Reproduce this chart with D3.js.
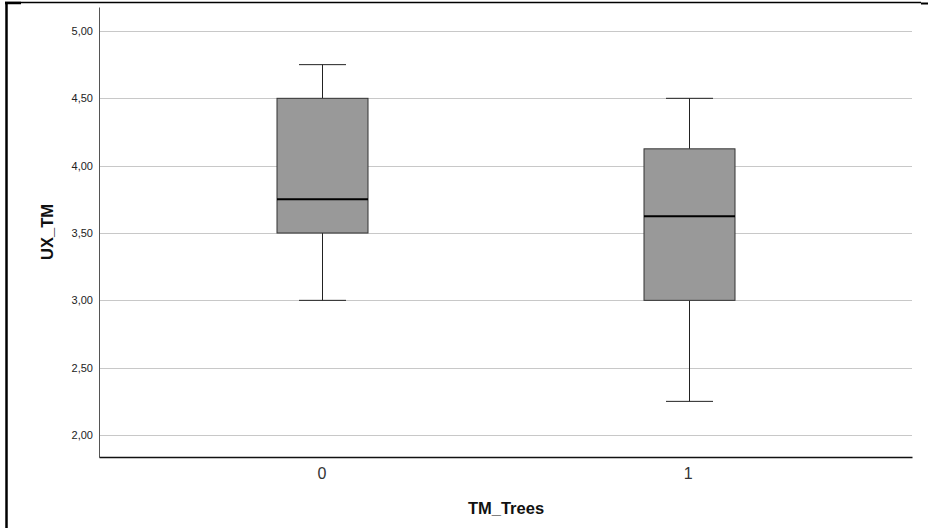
<!DOCTYPE html>
<html><head><meta charset="utf-8">
<script src="https://cdn.jsdelivr.net/npm/d3@7"></script>
<style>body{margin:0;background:#fff}svg{display:block}</style>
</head><body>
<script>
const categories = ["0", "1"];
const whiskerLow = [3.00, 2.25];
const q1 = [3.50, 3.00];
const median = [3.75, 3.625];
const q3 = [4.50, 4.125];
const whiskerHigh = [4.75, 4.50];
const yTicks = [2.0, 2.5, 3.0, 3.5, 4.0, 4.5, 5.0];
const xTitle = "TM_Trees";
const yTitle = "UX_TM";

(function () {
const W = 928, H = 528;
const svg = d3.select("body").append("svg").attr("width", W).attr("height", H);
const font = "'Liberation Sans', Arial, sans-serif";

// outer frame
svg.append("line").attr("x1", 6.5).attr("x2", 6.5).attr("y1", 2).attr("y2", H).attr("stroke", "#000").attr("stroke-width", 2.5);
svg.append("line").attr("x1", 5).attr("x2", 921).attr("y1", 2.5).attr("y2", 2.5).attr("stroke", "#000").attr("stroke-width", 1.5);
svg.append("line").attr("x1", 5).attr("x2", 21).attr("y1", 3).attr("y2", 3).attr("stroke", "#000").attr("stroke-width", 2.5);
svg.append("line").attr("x1", 921).attr("x2", W).attr("y1", 3.5).attr("y2", 3.5).attr("stroke", "#000").attr("stroke-width", 2);

const pLeft = 99, pRight = 912, pTop = 7, pBottom = 457;
const y = d3.scaleLinear().domain([1.837, 5.178]).range([pBottom, pTop]);
const x = d3.scalePoint().domain(categories).range([pLeft, pRight]).padding(0.61);

// gridlines
svg.append("g").selectAll("line").data(yTicks).join("line")
  .attr("x1", pLeft).attr("x2", pRight)
  .attr("y1", d => Math.round(y(d)) + 0.5).attr("y2", d => Math.round(y(d)) + 0.5)
  .attr("stroke", "#c8c8c8").attr("stroke-width", 1);

// y axis
const yAxis = d3.axisLeft(y).tickValues(yTicks).tickSize(0).tickPadding(6)
  .tickFormat(d => d3.format(".2f")(d).replace(".", ","));
const gy = svg.append("g").attr("transform", `translate(${pLeft},0)`).call(yAxis);
gy.select(".domain").attr("stroke", "#555").attr("stroke-width", 1);
gy.selectAll("text").attr("font-family", font).attr("font-size", 11).attr("fill", "#222");

// x axis
const xAxis = d3.axisBottom(x).tickSize(0).tickPadding(11);
const gx = svg.append("g").attr("transform", `translate(0,${pBottom})`).call(xAxis);
gx.select(".domain").attr("stroke", "#111").attr("stroke-width", 1.5);
gx.selectAll("text").attr("font-family", font).attr("font-size", 16).attr("fill", "#333").attr("dx", -1);

// boxes
const bw = 91, cw = 47;
const g = svg.append("g");
categories.forEach((c, i) => {
  const cx = Math.round(x(c)) + 0.5;
  g.append("line").attr("x1", cx).attr("x2", cx).attr("y1", y(whiskerLow[i])).attr("y2", y(q1[i])).attr("stroke", "#222");
  g.append("line").attr("x1", cx).attr("x2", cx).attr("y1", y(q3[i])).attr("y2", y(whiskerHigh[i])).attr("stroke", "#222");
  g.append("line").attr("x1", cx - cw/2).attr("x2", cx + cw/2).attr("y1", y(whiskerLow[i])).attr("y2", y(whiskerLow[i])).attr("stroke", "#222");
  g.append("line").attr("x1", cx - cw/2).attr("x2", cx + cw/2).attr("y1", y(whiskerHigh[i])).attr("y2", y(whiskerHigh[i])).attr("stroke", "#222");
  g.append("rect").attr("x", cx - bw/2).attr("width", bw)
    .attr("y", y(q3[i])).attr("height", y(q1[i]) - y(q3[i]))
    .attr("fill", "#999999").attr("stroke", "#333").attr("stroke-width", 1);
  g.append("line").attr("x1", cx - bw/2).attr("x2", cx + bw/2).attr("y1", y(median[i])).attr("y2", y(median[i])).attr("stroke", "#000").attr("stroke-width", 2);
});

// titles
svg.append("text").attr("x", (pLeft + pRight) / 2 + 0.5).attr("y", 514)
  .attr("text-anchor", "middle").attr("font-family", font).attr("font-weight", "bold").attr("font-size", 16.5)
  .attr("fill", "#111").text(xTitle);
svg.append("text").attr("transform", `translate(53,232) rotate(-90)`)
  .attr("text-anchor", "middle").attr("font-family", font).attr("font-weight", "bold").attr("font-size", 16.5)
  .attr("fill", "#111").text(yTitle);
})();
</script>
</body></html>
